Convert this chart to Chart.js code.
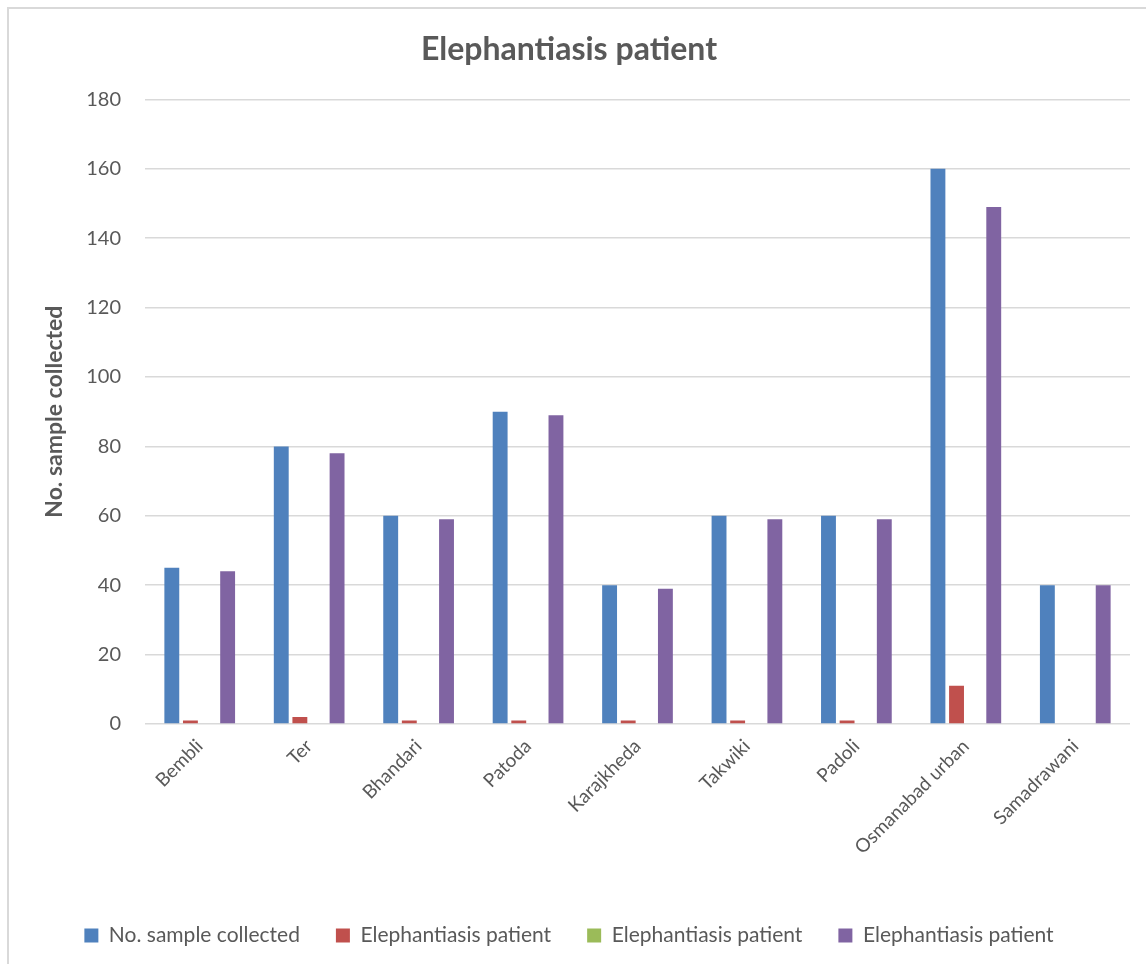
<!DOCTYPE html>
<html>
<head>
<meta charset="utf-8">
<script src="https://cdn.jsdelivr.net/npm/chart.js@4"></script>
<style>
  html, body { margin: 0; padding: 0; background: #fff; }
  #wrap { position: relative; width: 1146px; height: 964px; overflow: hidden; }
  #frame { position: absolute; left: 7px; top: 7px; width: 1200px; height: 1000px;
           border-left: 2px solid #d9d9d9; border-top: 2px solid #d9d9d9; }
  canvas { position: absolute; left: 0; top: 0; }
</style>
</head>
<body>
<div id="wrap">
  <div id="frame"></div>
  <canvas id="chart" width="1146" height="964"></canvas>
</div>
<script>
// --- data ---
const villages = ['Bembli', 'Ter', 'Bhandari', 'Patoda', 'Karajkheda', 'Takwiki', 'Padoli', 'Osmanabad urban', 'Samadrawani'];
const samplesCollected = [45, 80, 60, 90, 40, 60, 60, 160, 40];
const patientsRed = [1, 2, 1, 1, 1, 1, 1, 11, 0];
const patientsGreen = [0, 0, 0, 0, 0, 0, 0, 0, 0];
const patientsPurple = [44, 78, 59, 89, 39, 59, 59, 149, 40];
const yTicks = [0, 20, 40, 60, 80, 100, 120, 140, 160, 180];

const FONT = 'Lato, "Open Sans", "DejaVu Sans", sans-serif';
const GREY = '#595959';

function series(label, data, color) {
    return {
        label: label,
        data: data,
        backgroundColor: color,
        borderWidth: 0,
        categoryPercentage: 0.68,
        barPercentage: 0.8
    };
}

new Chart(document.getElementById('chart'), {
    type: 'bar',
    data: {
        labels: villages,
        datasets: [
            series('No. sample collected', samplesCollected, '#4f81bd'),
            series('Elephantiasis patient', patientsRed, '#c0504d'),
            series('Elephantiasis patient', patientsGreen, '#9bbb59'),
            series('Elephantiasis patient', patientsPurple, '#8064a2')
        ]
    },
    options: {
        responsive: false,
        animation: false,
        layout: { padding: { left: 8, right: 16, top: 20, bottom: 8 } },
        plugins: {
            title: {
                display: true,
                text: 'Elephantiasis patient',
                color: GREY,
                font: { family: FONT, size: 32, weight: 'bold' },
                padding: { top: 10, bottom: 31 }
            },
            legend: {
                position: 'bottom',
                align: 'center',
                labels: {
                    color: GREY,
                    font: { family: FONT, size: 21 },
                    boxWidth: 14,
                    boxHeight: 14,
                    padding: 36
                }
            },
            tooltip: { enabled: false }
        },
        scales: {
            x: {
                grid: { display: false },
                border: { display: false },
                ticks: {
                    color: GREY,
                    font: { family: FONT, size: 19 },
                    minRotation: 45,
                    maxRotation: 45,
                    autoSkip: false
                },
                afterFit: (scale) => { scale.height = 165; }
            },
            y: {
                min: 0,
                max: 180,
                afterBuildTicks: (scale) => { scale.ticks = yTicks.map(v => ({ value: v })); },
                grid: { color: '#d9d9d9', lineWidth: 1.5, drawTicks: false },
                border: { display: false },
                ticks: {
                    color: GREY,
                    font: { family: FONT, size: 20 },
                    padding: 24
                },
                title: {
                    display: true,
                    text: 'No. sample collected',
                    color: GREY,
                    font: { family: FONT, size: 23, weight: 'bold' },
                    padding: { top: 33, bottom: 0 }
                },
                afterFit: (scale) => { scale.width = 137; }
            }
        }
    }
});
</script>
</body>
</html>
